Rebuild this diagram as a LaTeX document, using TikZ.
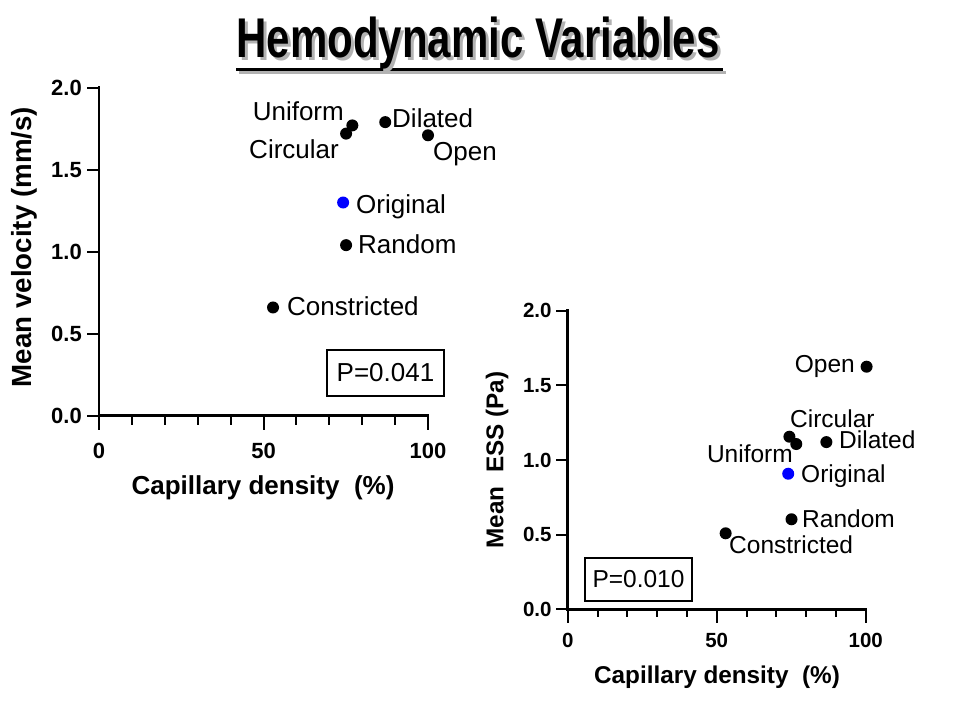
\documentclass[tikz,border=0pt]{standalone}
\usepackage{fontspec}
\setmainfont{Liberation Sans}
\newfontfamily\titlefont[FakeStretch=0.75]{Liberation Sans}
\usetikzlibrary{positioning}
\begin{document}
\begin{tikzpicture}[x=1pt, y=-1pt]
        % Common styles
        \tikzstyle{axisline}=[line width=2.6pt, line cap=rect]
        \tikzstyle{tickline}=[line width=2pt]
        \tikzstyle{datapt}=[circle, fill=black, inner sep=0pt, minimum size=12pt]
        \tikzstyle{ticklbl}=[font=\fontsize{22}{24}\selectfont\bfseries, inner sep=0pt]
        \tikzstyle{axtitle}=[font=\fontsize{26}{28}\selectfont\bfseries, inner sep=0pt]
        \tikzstyle{lbl}=[font=\fontsize{26}{28}\selectfont, inner sep=0pt]
        \tikzstyle{pbox}=[draw, line width=2pt, inner sep=4pt, minimum width=117pt, minimum height=46pt]
        \useasboundingbox (0,0) rectangle (960,720);

        % --- Title (with grey shadow) ---
        \draw[gray!60, line width=3pt] (239,72) -- (726,72);
        \draw[line width=3pt] (236,69) -- (723,69);
        \node[anchor=base, font=\fontsize{56}{60}\selectfont\titlefont\bfseries, inner sep=0pt] (title) at (478,57)
            {\makebox[0pt][l]{\hspace{3pt}\raisebox{-3pt}{\color{gray!60}Hemodynamic Variables}}Hemodynamic Variables};

        % --- Plot 1: Mean velocity ---
        \begin{scope}[shift={(99,415.7)}, x=3.29pt, y=164pt]
            \draw[axisline] (0,2) -- (0,0) -- (100,0);
            \foreach \y/\t in {0/0.0, 0.5/0.5, 1/1.0, 1.5/1.5, 2/2.0} {
                \draw[tickline] (0,\y) -- ++(-12pt,0);
                \node[ticklbl, anchor=east] at ([xshift=-17pt]0,\y) {\t};
            }
            \foreach \x in {10,20,...,90} \draw[tickline] (\x,0) -- ++(0,-9pt);
            \foreach \x in {0,50,100} {
                \draw[tickline] (\x,0) -- ++(0,-14pt);
                \node[ticklbl] at ([yshift=-35pt]\x,0) {\x};
            }
            % data
            \node[datapt] (uniL) at (77,1.77) {};
            \node[datapt] (cirL) at (75.1,1.72) {};
            \node[datapt] (dilL) at (87,1.79) {};
            \node[datapt] (opeL) at (100,1.71) {};
            \node[datapt, fill=blue] (oriL) at (74.2,1.30) {};
            \node[datapt] (ranL) at (75.1,1.04) {};
            \node[datapt] (conL) at (52.9,0.66) {};
        \end{scope}
        \node[axtitle, font=\fontsize{27.7}{30}\selectfont\bfseries, rotate=90] (velytitle) at (24,247) {Mean velocity (mm/s)};
        \node[axtitle] (velxtitle) at (263,488) {Capillary density~~(\%)};
        \node[lbl, anchor=base east] at (344,120) {Uniform};
        \node[lbl, anchor=base east] at (339,158) {Circular};
        \node[lbl, anchor=base west] at (392,127) {Dilated};
        \node[lbl, anchor=base west] at (433,160) {Open};
        \node[lbl, anchor=base west] at (356,213) {Original};
        \node[lbl, anchor=base west] at (358,253) {Random};
        \node[lbl, anchor=base west] at (287,315) {Constricted};
        \node[pbox, font=\fontsize{26}{28}\selectfont] (pvel) at (385.5,373) {P=0.041};

        % --- Plot 2: Mean ESS ---
        \begin{scope}[shift={(567.7,609.3)}, x=2.98pt, y=149.3pt]
            \draw[axisline] (0,2) -- (0,0) -- (100,0);
            \foreach \y/\t in {0/0.0, 0.5/0.5, 1/1.0, 1.5/1.5, 2/2.0} {
                \draw[tickline] (0,\y) -- ++(-12pt,0);
                \node[ticklbl, font=\fontsize{20.5}{22}\selectfont\bfseries, anchor=east] at ([xshift=-16pt]0,\y) {\t};
            }
            \foreach \x in {10,20,...,90} \draw[tickline] (\x,0) -- ++(0,-8pt);
            \foreach \x in {0,50,100} {
                \draw[tickline] (\x,0) -- ++(0,-14pt);
                \node[ticklbl, font=\fontsize{20.5}{22}\selectfont\bfseries] at ([yshift=-31pt]\x,0) {\x};
            }
            % data
            \node[datapt] (opeR) at (100.3,1.625) {};
            \node[datapt] (cirR) at (74.4,1.156) {};
            \node[datapt] (uniR) at (76.7,1.107) {};
            \node[datapt] (dilR) at (86.8,1.12) {};
            \node[datapt, fill=blue] (oriR) at (74.0,0.908) {};
            \node[datapt] (ranR) at (75.1,0.603) {};
            \node[datapt] (conR) at (53.0,0.509) {};
        \end{scope}
        \node[axtitle, font=\fontsize{24.3}{26}\selectfont\bfseries, rotate=90] (essytitle) at (497,460) {Mean~~ESS (Pa)};
        \node[axtitle, font=\fontsize{24.3}{26}\selectfont\bfseries] (essxtitle) at (717,677) {Capillary density~~(\%)};
        \node[lbl, font=\fontsize{24.5}{26}\selectfont, anchor=base east] at (855,372) {Open};
        \node[lbl, font=\fontsize{24.5}{26}\selectfont, anchor=base west] at (790,427) {Circular};
        \node[lbl, font=\fontsize{24.5}{26}\selectfont, anchor=base west] at (839,448) {Dilated};
        \node[lbl, font=\fontsize{24.5}{26}\selectfont, anchor=base east] at (793,462) {Uniform};
        \node[lbl, font=\fontsize{24.5}{26}\selectfont, anchor=base west] at (801,482) {Original};
        \node[lbl, font=\fontsize{24.5}{26}\selectfont, anchor=base west] at (802,527) {Random};
        \node[lbl, font=\fontsize{24.5}{26}\selectfont, anchor=base west] at (729,553) {Constricted};
        \node[pbox, font=\fontsize{24.5}{26}\selectfont, minimum width=107pt, minimum height=43pt] (pess) at (638.5,579.5) {P=0.010};

    \end{tikzpicture}
\end{document}
